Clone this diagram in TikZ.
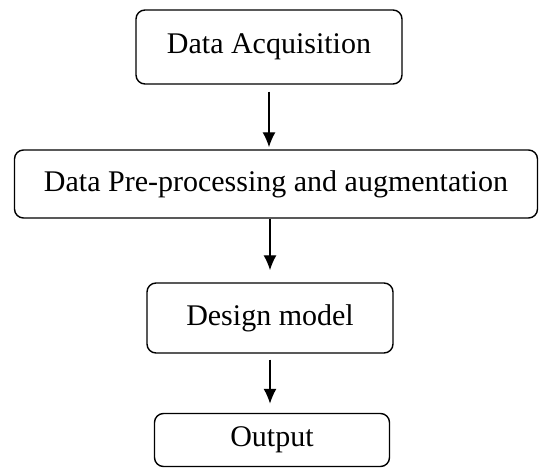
\documentclass[tikz,border=0pt]{standalone}
\usepackage{fontspec}
\setmainfont{Liberation Serif}
\usetikzlibrary{positioning, arrows.meta}
\tikzstyle{blk}=[draw, rounded corners=9pt, line width=1.4pt, inner sep=0pt, font=\fontsize{30}{36}\selectfont]
\tikzstyle{flow}=[-{Latex[length=15pt,width=13pt]}, line width=1.4pt]

\begin{document}
\begin{tikzpicture}[x=1pt,y=-1pt]
      \useasboundingbox (0,0) rectangle (539,468);
      \node [blk, minimum width=266pt, minimum height=74pt] (acq) at (269,47) {Data Acquisition};
      \node [blk, minimum width=523pt, minimum height=68pt] (prep) at (276,184) {Data Pre-processing and augmentation};
      \node [blk, minimum width=246pt, minimum height=70pt] (model) at (270,318) {Design model};
      \node [blk, minimum width=235pt, minimum height=53pt] (out) at (272,440) {Output};
      \draw[flow, shorten <=7pt, shorten >=2pt] (acq.south) -- (acq.south |- prep.north);
      \draw[flow, shorten >=12pt] (model.north |- prep.south) -- (model.north);
      \draw[flow, shorten <=6pt, shorten >=9pt] (model.south) -- (model.south |- out.north);
\end{tikzpicture}
\end{document}
